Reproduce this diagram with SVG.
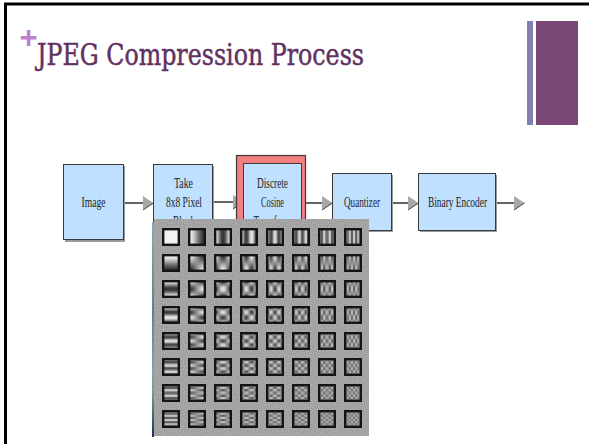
<svg xmlns="http://www.w3.org/2000/svg" xmlns:xlink="http://www.w3.org/1999/xlink" width="589" height="444" viewBox="0 0 589 444">
  <style>
    .box{fill:#c0e0ff;stroke:#3a3a3a;stroke-width:1}
    .shadow{fill:#9a9a9a}
    .lbl{font-family:"Liberation Serif","Times New Roman",serif;font-size:14px;fill:#222;text-anchor:middle}
    .wire{fill:none;stroke:#111;stroke-width:1.3;marker-end:url(#head)}
    .scr{mix-blend-mode:screen}
  </style>
  <defs>
    <marker id="head" markerUnits="userSpaceOnUse" markerWidth="11" markerHeight="15" viewBox="0 0 11 15" refX="0" refY="7.5" orient="auto">
      <path d="M0,0.5 L10.5,7.5 L0,14.5 Z" fill="#a8a8a8"/>
      <path d="M0,14.5 L10.5,7.5" stroke="#444" stroke-width="1" fill="none"/>
    </marker>

    <!-- horizontal cosine profiles (red channel), u = 0..7 -->
    <linearGradient id="gh0"><stop offset="0" stop-color="rgb(100%,0%,0%)"/></linearGradient>
    <linearGradient id="gh1"><stop offset="6.25%" stop-color="rgb(99.04%,0%,0%)"/><stop offset="18.75%" stop-color="rgb(91.57%,0%,0%)"/><stop offset="31.25%" stop-color="rgb(77.78%,0%,0%)"/><stop offset="43.75%" stop-color="rgb(59.75%,0%,0%)"/><stop offset="56.25%" stop-color="rgb(40.25%,0%,0%)"/><stop offset="68.75%" stop-color="rgb(22.22%,0%,0%)"/><stop offset="81.25%" stop-color="rgb(8.43%,0%,0%)"/><stop offset="93.75%" stop-color="rgb(0.96%,0%,0%)"/></linearGradient>
    <linearGradient id="gh2"><stop offset="6.25%" stop-color="rgb(96.19%,0%,0%)"/><stop offset="18.75%" stop-color="rgb(69.13%,0%,0%)"/><stop offset="31.25%" stop-color="rgb(30.87%,0%,0%)"/><stop offset="43.75%" stop-color="rgb(3.81%,0%,0%)"/><stop offset="56.25%" stop-color="rgb(3.81%,0%,0%)"/><stop offset="68.75%" stop-color="rgb(30.87%,0%,0%)"/><stop offset="81.25%" stop-color="rgb(69.13%,0%,0%)"/><stop offset="93.75%" stop-color="rgb(96.19%,0%,0%)"/></linearGradient>
    <linearGradient id="gh3"><stop offset="6.25%" stop-color="rgb(91.57%,0%,0%)"/><stop offset="18.75%" stop-color="rgb(40.25%,0%,0%)"/><stop offset="31.25%" stop-color="rgb(0.96%,0%,0%)"/><stop offset="43.75%" stop-color="rgb(22.22%,0%,0%)"/><stop offset="56.25%" stop-color="rgb(77.78%,0%,0%)"/><stop offset="68.75%" stop-color="rgb(99.04%,0%,0%)"/><stop offset="81.25%" stop-color="rgb(59.75%,0%,0%)"/><stop offset="93.75%" stop-color="rgb(8.43%,0%,0%)"/></linearGradient>
    <linearGradient id="gh4"><stop offset="6.25%" stop-color="rgb(85.36%,0%,0%)"/><stop offset="18.75%" stop-color="rgb(14.64%,0%,0%)"/><stop offset="31.25%" stop-color="rgb(14.64%,0%,0%)"/><stop offset="43.75%" stop-color="rgb(85.36%,0%,0%)"/><stop offset="56.25%" stop-color="rgb(85.36%,0%,0%)"/><stop offset="68.75%" stop-color="rgb(14.64%,0%,0%)"/><stop offset="81.25%" stop-color="rgb(14.64%,0%,0%)"/><stop offset="93.75%" stop-color="rgb(85.36%,0%,0%)"/></linearGradient>
    <linearGradient id="gh5"><stop offset="6.25%" stop-color="rgb(77.78%,0%,0%)"/><stop offset="18.75%" stop-color="rgb(0.96%,0%,0%)"/><stop offset="31.25%" stop-color="rgb(59.75%,0%,0%)"/><stop offset="43.75%" stop-color="rgb(91.57%,0%,0%)"/><stop offset="56.25%" stop-color="rgb(8.43%,0%,0%)"/><stop offset="68.75%" stop-color="rgb(40.25%,0%,0%)"/><stop offset="81.25%" stop-color="rgb(99.04%,0%,0%)"/><stop offset="93.75%" stop-color="rgb(22.22%,0%,0%)"/></linearGradient>
    <linearGradient id="gh6"><stop offset="6.25%" stop-color="rgb(69.13%,0%,0%)"/><stop offset="18.75%" stop-color="rgb(3.81%,0%,0%)"/><stop offset="31.25%" stop-color="rgb(96.19%,0%,0%)"/><stop offset="43.75%" stop-color="rgb(30.87%,0%,0%)"/><stop offset="56.25%" stop-color="rgb(30.87%,0%,0%)"/><stop offset="68.75%" stop-color="rgb(96.19%,0%,0%)"/><stop offset="81.25%" stop-color="rgb(3.81%,0%,0%)"/><stop offset="93.75%" stop-color="rgb(69.13%,0%,0%)"/></linearGradient>
    <linearGradient id="gh7"><stop offset="6.25%" stop-color="rgb(59.75%,0%,0%)"/><stop offset="18.75%" stop-color="rgb(22.22%,0%,0%)"/><stop offset="31.25%" stop-color="rgb(91.57%,0%,0%)"/><stop offset="43.75%" stop-color="rgb(0.96%,0%,0%)"/><stop offset="56.25%" stop-color="rgb(99.04%,0%,0%)"/><stop offset="68.75%" stop-color="rgb(8.43%,0%,0%)"/><stop offset="81.25%" stop-color="rgb(77.78%,0%,0%)"/><stop offset="93.75%" stop-color="rgb(40.25%,0%,0%)"/></linearGradient>

    <!-- vertical cosine profiles (green channel), v = 0..7 -->
    <linearGradient id="gv0" x2="0" y2="1"><stop offset="0" stop-color="rgb(0%,100%,0%)"/></linearGradient>
    <linearGradient id="gv1" x2="0" y2="1"><stop offset="6.25%" stop-color="rgb(0%,99.04%,0%)"/><stop offset="18.75%" stop-color="rgb(0%,91.57%,0%)"/><stop offset="31.25%" stop-color="rgb(0%,77.78%,0%)"/><stop offset="43.75%" stop-color="rgb(0%,59.75%,0%)"/><stop offset="56.25%" stop-color="rgb(0%,40.25%,0%)"/><stop offset="68.75%" stop-color="rgb(0%,22.22%,0%)"/><stop offset="81.25%" stop-color="rgb(0%,8.43%,0%)"/><stop offset="93.75%" stop-color="rgb(0%,0.96%,0%)"/></linearGradient>
    <linearGradient id="gv2" x2="0" y2="1"><stop offset="6.25%" stop-color="rgb(0%,96.19%,0%)"/><stop offset="18.75%" stop-color="rgb(0%,69.13%,0%)"/><stop offset="31.25%" stop-color="rgb(0%,30.87%,0%)"/><stop offset="43.75%" stop-color="rgb(0%,3.81%,0%)"/><stop offset="56.25%" stop-color="rgb(0%,3.81%,0%)"/><stop offset="68.75%" stop-color="rgb(0%,30.87%,0%)"/><stop offset="81.25%" stop-color="rgb(0%,69.13%,0%)"/><stop offset="93.75%" stop-color="rgb(0%,96.19%,0%)"/></linearGradient>
    <linearGradient id="gv3" x2="0" y2="1"><stop offset="6.25%" stop-color="rgb(0%,91.57%,0%)"/><stop offset="18.75%" stop-color="rgb(0%,40.25%,0%)"/><stop offset="31.25%" stop-color="rgb(0%,0.96%,0%)"/><stop offset="43.75%" stop-color="rgb(0%,22.22%,0%)"/><stop offset="56.25%" stop-color="rgb(0%,77.78%,0%)"/><stop offset="68.75%" stop-color="rgb(0%,99.04%,0%)"/><stop offset="81.25%" stop-color="rgb(0%,59.75%,0%)"/><stop offset="93.75%" stop-color="rgb(0%,8.43%,0%)"/></linearGradient>
    <linearGradient id="gv4" x2="0" y2="1"><stop offset="6.25%" stop-color="rgb(0%,85.36%,0%)"/><stop offset="18.75%" stop-color="rgb(0%,14.64%,0%)"/><stop offset="31.25%" stop-color="rgb(0%,14.64%,0%)"/><stop offset="43.75%" stop-color="rgb(0%,85.36%,0%)"/><stop offset="56.25%" stop-color="rgb(0%,85.36%,0%)"/><stop offset="68.75%" stop-color="rgb(0%,14.64%,0%)"/><stop offset="81.25%" stop-color="rgb(0%,14.64%,0%)"/><stop offset="93.75%" stop-color="rgb(0%,85.36%,0%)"/></linearGradient>
    <linearGradient id="gv5" x2="0" y2="1"><stop offset="6.25%" stop-color="rgb(0%,77.78%,0%)"/><stop offset="18.75%" stop-color="rgb(0%,0.96%,0%)"/><stop offset="31.25%" stop-color="rgb(0%,59.75%,0%)"/><stop offset="43.75%" stop-color="rgb(0%,91.57%,0%)"/><stop offset="56.25%" stop-color="rgb(0%,8.43%,0%)"/><stop offset="68.75%" stop-color="rgb(0%,40.25%,0%)"/><stop offset="81.25%" stop-color="rgb(0%,99.04%,0%)"/><stop offset="93.75%" stop-color="rgb(0%,22.22%,0%)"/></linearGradient>
    <linearGradient id="gv6" x2="0" y2="1"><stop offset="6.25%" stop-color="rgb(0%,69.13%,0%)"/><stop offset="18.75%" stop-color="rgb(0%,3.81%,0%)"/><stop offset="31.25%" stop-color="rgb(0%,96.19%,0%)"/><stop offset="43.75%" stop-color="rgb(0%,30.87%,0%)"/><stop offset="56.25%" stop-color="rgb(0%,30.87%,0%)"/><stop offset="68.75%" stop-color="rgb(0%,96.19%,0%)"/><stop offset="81.25%" stop-color="rgb(0%,3.81%,0%)"/><stop offset="93.75%" stop-color="rgb(0%,69.13%,0%)"/></linearGradient>
    <linearGradient id="gv7" x2="0" y2="1"><stop offset="6.25%" stop-color="rgb(0%,59.75%,0%)"/><stop offset="18.75%" stop-color="rgb(0%,22.22%,0%)"/><stop offset="31.25%" stop-color="rgb(0%,91.57%,0%)"/><stop offset="43.75%" stop-color="rgb(0%,0.96%,0%)"/><stop offset="56.25%" stop-color="rgb(0%,99.04%,0%)"/><stop offset="68.75%" stop-color="rgb(0%,8.43%,0%)"/><stop offset="81.25%" stop-color="rgb(0%,77.78%,0%)"/><stop offset="93.75%" stop-color="rgb(0%,40.25%,0%)"/></linearGradient>

    <rect id="h0" x="1" y="1" width="16" height="16" fill="url(#gh0)"/>
    <rect id="h1" x="1" y="1" width="16" height="16" fill="url(#gh1)"/>
    <rect id="h2" x="1" y="1" width="16" height="16" fill="url(#gh2)"/>
    <rect id="h3" x="1" y="1" width="16" height="16" fill="url(#gh3)"/>
    <rect id="h4" x="1" y="1" width="16" height="16" fill="url(#gh4)"/>
    <rect id="h5" x="1" y="1" width="16" height="16" fill="url(#gh5)"/>
    <rect id="h6" x="1" y="1" width="16" height="16" fill="url(#gh6)"/>
    <rect id="h7" x="1" y="1" width="16" height="16" fill="url(#gh7)"/>
    <rect id="v0" x="1" y="1" width="16" height="16" fill="url(#gv0)"/>
    <rect id="v1" x="1" y="1" width="16" height="16" fill="url(#gv1)"/>
    <rect id="v2" x="1" y="1" width="16" height="16" fill="url(#gv2)"/>
    <rect id="v3" x="1" y="1" width="16" height="16" fill="url(#gv3)"/>
    <rect id="v4" x="1" y="1" width="16" height="16" fill="url(#gv4)"/>
    <rect id="v5" x="1" y="1" width="16" height="16" fill="url(#gv5)"/>
    <rect id="v6" x="1" y="1" width="16" height="16" fill="url(#gv6)"/>
    <rect id="v7" x="1" y="1" width="16" height="16" fill="url(#gv7)"/>

    <!-- product of the two cosine profiles: 2ab - a - b + 1 == (1 + cos*cos)/2 -->
    <filter id="dct" x="0" y="0" width="1" height="1" color-interpolation-filters="sRGB">
      <feColorMatrix in="SourceGraphic" type="matrix" values="1 0 0 0 0  1 0 0 0 0  1 0 0 0 0  0 0 0 1 0" result="a"/>
      <feColorMatrix in="SourceGraphic" type="matrix" values="0 1 0 0 0  0 1 0 0 0  0 1 0 0 0  0 0 0 1 0" result="b"/>
      <feComposite in="a" in2="b" operator="arithmetic" k1="2" k2="-1" k3="-1" k4="1" result="p"/>
      <feComponentTransfer in="p">
        <feFuncR type="linear" slope="0.76" intercept="0.19"/>
        <feFuncG type="linear" slope="0.76" intercept="0.19"/>
        <feFuncB type="linear" slope="0.76" intercept="0.19"/>
      </feComponentTransfer>
    </filter>

    <!-- light speckle on the basis-image backdrop -->
    <filter id="grain" x="0" y="0" width="1" height="1" color-interpolation-filters="sRGB">
      <feTurbulence type="fractalNoise" baseFrequency="0.9" numOctaves="1" seed="3"/>
      <feColorMatrix type="matrix" values="0 0 0 0 1  0 0 0 0 1  0 0 0 0 1  0 0 0 -0.6 0.38"/>
      <feComposite in2="SourceGraphic" operator="in"/>
    </filter>

    <!-- black frame repeated around every basis cell -->
    <pattern id="frames" x="162" y="228" width="26" height="26" patternUnits="userSpaceOnUse">
      <rect x="1.2" y="1.2" width="15.6" height="15.6" fill="none" stroke="#141414" stroke-width="2.4"/>
    </pattern>

    <linearGradient id="strip" x2="0" y2="1">
      <stop offset="0" stop-color="#8fa6c0"/>
      <stop offset="0.25" stop-color="#6f9a78"/>
      <stop offset="0.4" stop-color="#5d7da8"/>
      <stop offset="0.7" stop-color="#7fa0b8"/>
      <stop offset="0.8" stop-color="#6f9f80"/>
      <stop offset="1" stop-color="#1c2f66"/>
    </linearGradient>
  </defs>

  <rect width="589" height="444" fill="#fff"/>

  <!-- slide frame -->
  <path d="M5.5,444 V4 H589" fill="none" stroke="#000" stroke-width="3"/>

  <!-- theme accent bars -->
  <rect x="527" y="21" width="6" height="104" fill="#7f80b1"/>
  <rect x="536" y="21" width="42" height="104" fill="#7a4876"/>

  <!-- title -->
  <text x="28.5" y="47.5" font-family="'Liberation Sans',Arial,sans-serif" font-size="31" font-weight="bold" fill="#bf7fcc" text-anchor="middle">+</text>
  <text x="37" y="65" font-family="'DejaVu Serif',serif" font-size="30" fill="#61315f" stroke="#61315f" stroke-width="0.5" textLength="327" lengthAdjust="spacingAndGlyphs">JPEG Compression Process</text>

  <!-- connectors -->
  <g id="connectors">
    <path class="wire" d="M124,203 H143"/>
    <path class="wire" d="M213,202 H233"/>
    <path class="wire" d="M306,203 H322"/>
    <path class="wire" d="M392,203 H408"/>
    <path class="wire" d="M496,203 H514"/>
  </g>

  <g id="image">
    <rect class="shadow" x="65" y="166" width="60" height="76"/>
    <rect class="box" x="63.5" y="164.5" width="60" height="75"/>
    <text class="lbl" x="93.5" y="206.5" textLength="24" lengthAdjust="spacingAndGlyphs">Image</text>
  </g>

  <g id="take-block">
    <rect class="shadow" x="155" y="166" width="59" height="76"/>
    <rect class="box" x="153.5" y="164.5" width="59" height="75"/>
    <text class="lbl" x="183.5" y="188" textLength="19" lengthAdjust="spacingAndGlyphs">Take</text>
    <text class="lbl" x="184" y="207" textLength="36" lengthAdjust="spacingAndGlyphs">8x8 Pixel</text>
    <text class="lbl" x="184" y="226" textLength="22" lengthAdjust="spacingAndGlyphs">Block</text>
  </g>

  <g id="dct">
    <rect x="236.5" y="155.5" width="69" height="84" fill="#f47f7f" stroke="#3a3a3a" stroke-width="1.2"/>
    <rect class="box" x="243.5" y="163.5" width="58" height="76"/>
    <text class="lbl" x="272.5" y="188" textLength="31" lengthAdjust="spacingAndGlyphs">Discrete</text>
    <text class="lbl" x="272.5" y="207" textLength="23" lengthAdjust="spacingAndGlyphs">Cosine</text>
    <text class="lbl" x="272.5" y="226" textLength="38" lengthAdjust="spacingAndGlyphs">Transform</text>
  </g>

  <g id="quantizer">
    <rect class="shadow" x="334" y="175" width="59" height="57"/>
    <rect class="box" x="332.5" y="173.5" width="59" height="57"/>
    <text class="lbl" x="362" y="207" textLength="36" lengthAdjust="spacingAndGlyphs">Quantizer</text>
  </g>

  <g id="binary-encoder">
    <rect class="shadow" x="420" y="175" width="77" height="57"/>
    <rect class="box" x="418.5" y="173.5" width="77" height="57"/>
    <text class="lbl" x="457.5" y="206.5" textLength="59" lengthAdjust="spacingAndGlyphs">Binary Encoder</text>
  </g>

  <!-- 8x8 DCT basis functions -->
  <g id="basis">
    <rect x="152" y="222" width="2" height="215" fill="url(#strip)"/>
    <rect x="154" y="219" width="215" height="217" fill="#9c9c9c"/>
    <rect x="154" y="219" width="215" height="217" fill="#9c9c9c" filter="url(#grain)"/>

    <g transform="translate(162,228)" filter="url(#dct)"><use href="#h0"/><use class="scr" href="#v0"/></g>
    <g transform="translate(188,228)" filter="url(#dct)"><use href="#h1"/><use class="scr" href="#v0"/></g>
    <g transform="translate(214,228)" filter="url(#dct)"><use href="#h2"/><use class="scr" href="#v0"/></g>
    <g transform="translate(240,228)" filter="url(#dct)"><use href="#h3"/><use class="scr" href="#v0"/></g>
    <g transform="translate(266,228)" filter="url(#dct)"><use href="#h4"/><use class="scr" href="#v0"/></g>
    <g transform="translate(292,228)" filter="url(#dct)"><use href="#h5"/><use class="scr" href="#v0"/></g>
    <g transform="translate(318,228)" filter="url(#dct)"><use href="#h6"/><use class="scr" href="#v0"/></g>
    <g transform="translate(344,228)" filter="url(#dct)"><use href="#h7"/><use class="scr" href="#v0"/></g>

    <g transform="translate(162,254)" filter="url(#dct)"><use href="#h0"/><use class="scr" href="#v1"/></g>
    <g transform="translate(188,254)" filter="url(#dct)"><use href="#h1"/><use class="scr" href="#v1"/></g>
    <g transform="translate(214,254)" filter="url(#dct)"><use href="#h2"/><use class="scr" href="#v1"/></g>
    <g transform="translate(240,254)" filter="url(#dct)"><use href="#h3"/><use class="scr" href="#v1"/></g>
    <g transform="translate(266,254)" filter="url(#dct)"><use href="#h4"/><use class="scr" href="#v1"/></g>
    <g transform="translate(292,254)" filter="url(#dct)"><use href="#h5"/><use class="scr" href="#v1"/></g>
    <g transform="translate(318,254)" filter="url(#dct)"><use href="#h6"/><use class="scr" href="#v1"/></g>
    <g transform="translate(344,254)" filter="url(#dct)"><use href="#h7"/><use class="scr" href="#v1"/></g>

    <g transform="translate(162,280)" filter="url(#dct)"><use href="#h0"/><use class="scr" href="#v2"/></g>
    <g transform="translate(188,280)" filter="url(#dct)"><use href="#h1"/><use class="scr" href="#v2"/></g>
    <g transform="translate(214,280)" filter="url(#dct)"><use href="#h2"/><use class="scr" href="#v2"/></g>
    <g transform="translate(240,280)" filter="url(#dct)"><use href="#h3"/><use class="scr" href="#v2"/></g>
    <g transform="translate(266,280)" filter="url(#dct)"><use href="#h4"/><use class="scr" href="#v2"/></g>
    <g transform="translate(292,280)" filter="url(#dct)"><use href="#h5"/><use class="scr" href="#v2"/></g>
    <g transform="translate(318,280)" filter="url(#dct)"><use href="#h6"/><use class="scr" href="#v2"/></g>
    <g transform="translate(344,280)" filter="url(#dct)"><use href="#h7"/><use class="scr" href="#v2"/></g>

    <g transform="translate(162,306)" filter="url(#dct)"><use href="#h0"/><use class="scr" href="#v3"/></g>
    <g transform="translate(188,306)" filter="url(#dct)"><use href="#h1"/><use class="scr" href="#v3"/></g>
    <g transform="translate(214,306)" filter="url(#dct)"><use href="#h2"/><use class="scr" href="#v3"/></g>
    <g transform="translate(240,306)" filter="url(#dct)"><use href="#h3"/><use class="scr" href="#v3"/></g>
    <g transform="translate(266,306)" filter="url(#dct)"><use href="#h4"/><use class="scr" href="#v3"/></g>
    <g transform="translate(292,306)" filter="url(#dct)"><use href="#h5"/><use class="scr" href="#v3"/></g>
    <g transform="translate(318,306)" filter="url(#dct)"><use href="#h6"/><use class="scr" href="#v3"/></g>
    <g transform="translate(344,306)" filter="url(#dct)"><use href="#h7"/><use class="scr" href="#v3"/></g>

    <g transform="translate(162,332)" filter="url(#dct)"><use href="#h0"/><use class="scr" href="#v4"/></g>
    <g transform="translate(188,332)" filter="url(#dct)"><use href="#h1"/><use class="scr" href="#v4"/></g>
    <g transform="translate(214,332)" filter="url(#dct)"><use href="#h2"/><use class="scr" href="#v4"/></g>
    <g transform="translate(240,332)" filter="url(#dct)"><use href="#h3"/><use class="scr" href="#v4"/></g>
    <g transform="translate(266,332)" filter="url(#dct)"><use href="#h4"/><use class="scr" href="#v4"/></g>
    <g transform="translate(292,332)" filter="url(#dct)"><use href="#h5"/><use class="scr" href="#v4"/></g>
    <g transform="translate(318,332)" filter="url(#dct)"><use href="#h6"/><use class="scr" href="#v4"/></g>
    <g transform="translate(344,332)" filter="url(#dct)"><use href="#h7"/><use class="scr" href="#v4"/></g>

    <g transform="translate(162,358)" filter="url(#dct)"><use href="#h0"/><use class="scr" href="#v5"/></g>
    <g transform="translate(188,358)" filter="url(#dct)"><use href="#h1"/><use class="scr" href="#v5"/></g>
    <g transform="translate(214,358)" filter="url(#dct)"><use href="#h2"/><use class="scr" href="#v5"/></g>
    <g transform="translate(240,358)" filter="url(#dct)"><use href="#h3"/><use class="scr" href="#v5"/></g>
    <g transform="translate(266,358)" filter="url(#dct)"><use href="#h4"/><use class="scr" href="#v5"/></g>
    <g transform="translate(292,358)" filter="url(#dct)"><use href="#h5"/><use class="scr" href="#v5"/></g>
    <g transform="translate(318,358)" filter="url(#dct)"><use href="#h6"/><use class="scr" href="#v5"/></g>
    <g transform="translate(344,358)" filter="url(#dct)"><use href="#h7"/><use class="scr" href="#v5"/></g>

    <g transform="translate(162,384)" filter="url(#dct)"><use href="#h0"/><use class="scr" href="#v6"/></g>
    <g transform="translate(188,384)" filter="url(#dct)"><use href="#h1"/><use class="scr" href="#v6"/></g>
    <g transform="translate(214,384)" filter="url(#dct)"><use href="#h2"/><use class="scr" href="#v6"/></g>
    <g transform="translate(240,384)" filter="url(#dct)"><use href="#h3"/><use class="scr" href="#v6"/></g>
    <g transform="translate(266,384)" filter="url(#dct)"><use href="#h4"/><use class="scr" href="#v6"/></g>
    <g transform="translate(292,384)" filter="url(#dct)"><use href="#h5"/><use class="scr" href="#v6"/></g>
    <g transform="translate(318,384)" filter="url(#dct)"><use href="#h6"/><use class="scr" href="#v6"/></g>
    <g transform="translate(344,384)" filter="url(#dct)"><use href="#h7"/><use class="scr" href="#v6"/></g>

    <g transform="translate(162,410)" filter="url(#dct)"><use href="#h0"/><use class="scr" href="#v7"/></g>
    <g transform="translate(188,410)" filter="url(#dct)"><use href="#h1"/><use class="scr" href="#v7"/></g>
    <g transform="translate(214,410)" filter="url(#dct)"><use href="#h2"/><use class="scr" href="#v7"/></g>
    <g transform="translate(240,410)" filter="url(#dct)"><use href="#h3"/><use class="scr" href="#v7"/></g>
    <g transform="translate(266,410)" filter="url(#dct)"><use href="#h4"/><use class="scr" href="#v7"/></g>
    <g transform="translate(292,410)" filter="url(#dct)"><use href="#h5"/><use class="scr" href="#v7"/></g>
    <g transform="translate(318,410)" filter="url(#dct)"><use href="#h6"/><use class="scr" href="#v7"/></g>
    <g transform="translate(344,410)" filter="url(#dct)"><use href="#h7"/><use class="scr" href="#v7"/></g>

    <rect x="162" y="228" width="208" height="208" fill="url(#frames)"/>
  </g>
</svg>
